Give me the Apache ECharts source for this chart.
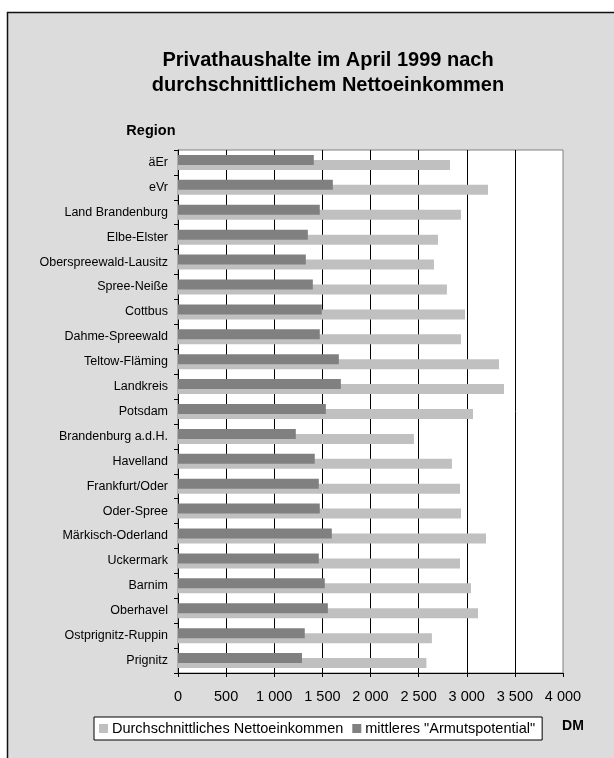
<!DOCTYPE html>
<html>
<head>
<meta charset="utf-8">
<script src="https://cdn.jsdelivr.net/npm/echarts@6/dist/echarts.min.js"></script>
<style>
html,body{margin:0;padding:0;background:#fff;}
#chart{width:614px;height:758px;}
</style>
</head>
<body>
<div id="chart"></div>
<script>
var categories = ['äEr','eVr','Land Brandenburg','Elbe-Elster','Oberspreewald-Lausitz','Spree-Neiße','Cottbus','Dahme-Spreewald','Teltow-Fläming','Landkreis','Potsdam','Brandenburg a.d.H.','Havelland','Frankfurt/Oder','Oder-Spree','Märkisch-Oderland','Uckermark','Barnim','Oberhavel','Ostprignitz-Ruppin','Prignitz'];
var incomeValues = [2826, 3221, 2940, 2701, 2659, 2794, 2982, 2940, 3335, 3387, 3065, 2451, 2846, 2930, 2940, 3200, 2930, 3044, 3117, 2638, 2581];
var povertyValues = [1411, 1609, 1473, 1349, 1328, 1401, 1494, 1473, 1671, 1692, 1536, 1224, 1421, 1463, 1473, 1598, 1463, 1525, 1557, 1317, 1288];
var seriesNames = ['Durchschnittliches Nettoeinkommen', 'mittleres "Armutspotential"'];
var titleLines = ['Privathaushalte im April 1999 nach', 'durchschnittlichem Nettoeinkommen'];
var yAxisTitle = 'Region';
var xAxisTitle = 'DM';

var FONT = '"Liberation Sans", Arial, sans-serif';
var chart = echarts.init(document.getElementById('chart'), null, {renderer: 'canvas'});

function fmt(v) {
  if (v >= 1000) { return Math.floor(v / 1000) + ' ' + String(v % 1000).padStart(3, '0'); }
  return String(v);
}

var option = {
  backgroundColor: '#ffffff',
  animation: false,
  graphic: [
    {type: 'rect', z: -10, shape: {x: 7.5, y: 12.5, width: 640, height: 780},
     style: {fill: '#dcdcdc', stroke: '#111', lineWidth: 1.5}},
    {type: 'text', x: 328, y: 60, style: {text: titleLines[0], textAlign: 'center', textVerticalAlign: 'middle', font: 'bold 20px ' + FONT, fill: '#000'}},
    {type: 'text', x: 328, y: 85, style: {text: titleLines[1], textAlign: 'center', textVerticalAlign: 'middle', font: 'bold 20px ' + FONT, fill: '#000'}},
    {type: 'text', x: 175.5, y: 131, style: {text: yAxisTitle, textAlign: 'right', textVerticalAlign: 'middle', font: 'bold 14.5px ' + FONT, fill: '#000'}},
    {type: 'text', x: 573, y: 726, style: {text: xAxisTitle, textAlign: 'center', textVerticalAlign: 'middle', font: 'bold 14px ' + FONT, fill: '#000'}}
  ],
  legend: {
    left: 94, top: 717,
    data: seriesNames,
    orient: 'horizontal',
    itemWidth: 9, itemHeight: 9, itemGap: 9,
    icon: 'rect',
    padding: [4, 7, 4, 5],
    backgroundColor: '#ffffff',
    borderColor: '#000', borderWidth: 1, borderRadius: 0,
    textStyle: {fontFamily: FONT, fontSize: 14.5, color: '#000', padding: [0, 0, 0, -1]}
  },
  grid: {
    left: 178, top: 150, width: 385, height: 523,
    show: true, backgroundColor: '#ffffff', borderColor: '#808080', borderWidth: 1,
    containLabel: false
  },
  xAxis: {
    type: 'value', min: 0, max: 4000, interval: 500,
    axisLine: {show: true, lineStyle: {color: '#000', width: 1}},
    axisTick: {show: true, length: 4, lineStyle: {color: '#000'}},
    axisLabel: {fontFamily: FONT, fontSize: 14.5, color: '#000', margin: 16, formatter: fmt},
    splitLine: {show: true, showMinLine: false, showMaxLine: false, lineStyle: {color: '#000', width: 1}}
  },
  yAxis: {
    type: 'category', data: categories, inverse: true,
    axisLine: {show: true, lineStyle: {color: '#000', width: 1}},
    axisTick: {show: true, length: 4, lineStyle: {color: '#000'}},
    axisLabel: {fontFamily: FONT, fontSize: 12.5, color: '#000', margin: 10},
    splitLine: {show: false}
  },
  series: [
    {name: seriesNames[1], type: 'bar', data: povertyValues, barWidth: 10, barGap: '-50%', z: 3,
     itemStyle: {color: '#808080'}},
    {name: seriesNames[0], type: 'bar', data: incomeValues, barWidth: 10, barGap: '-50%', z: 2,
     itemStyle: {color: '#c0c0c0'}}
  ]
};
chart.setOption(option);
</script>
</body>
</html>
